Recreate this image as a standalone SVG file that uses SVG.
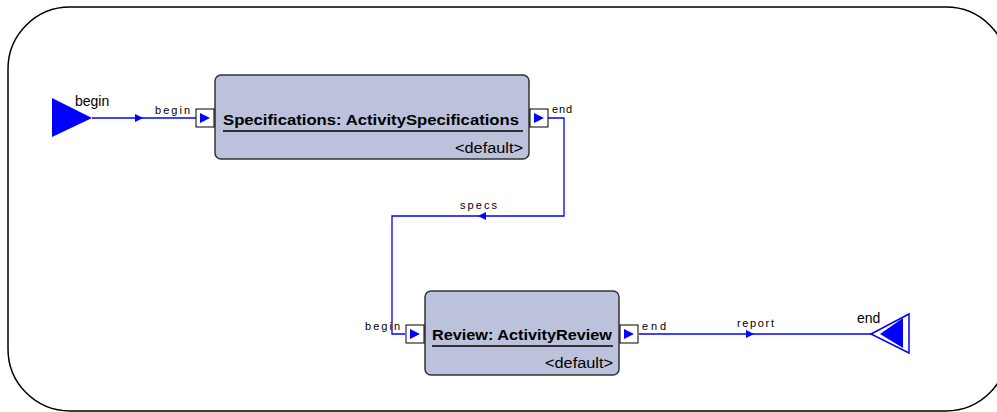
<svg xmlns="http://www.w3.org/2000/svg" width="997" height="412" viewBox="0 0 997 412">
<defs>
<style>
.frame{fill:#ffffff;stroke:#000000;stroke-width:1.5}
.box{fill:#bcc1dc;stroke:#333333;stroke-width:1.5}
.port{fill:#ffffff;stroke:#000000;stroke-width:1}
.ptri{fill:#0000ff}
.wire{fill:none;stroke:#0000ff;stroke-width:1.3}
.title{font-family:"Liberation Sans",Arial,sans-serif;font-weight:bold;font-size:15px;fill:#000000}
.def{font-family:"Liberation Sans",Arial,sans-serif;font-size:14px;fill:#000000}
.lbl{font-family:"Liberation Sans",Arial,sans-serif;font-size:11px;fill:#000000}
.big{font-family:"Liberation Sans",Arial,sans-serif;font-size:14px;fill:#000000}
</style>
<marker id="mid" viewBox="0 0 10 10" refX="5" refY="5" markerWidth="8" markerHeight="8" markerUnits="userSpaceOnUse" orient="auto">
<path d="M0,0 L10,5 L0,10 Z" fill="#0000ff"/>
</marker>
</defs>
<rect class="frame" x="8" y="7" width="1000" height="404" rx="62" ry="62"/>
<g id="connectors">
<g id="c-begin">
<polyline class="wire" points="92,118 139,118" marker-end="url(#mid)"/>
<line class="wire" x1="139" y1="118" x2="196" y2="118"/>
<text class="lbl" x="155" y="114" textLength="35" lengthAdjust="spacing">begin</text>
</g>
<g id="c-specs">
<polyline class="wire" points="548,118 564,118 564,216 482,216" marker-end="url(#mid)"/>
<polyline class="wire" points="482,216 392,216 392,334 405,334"/>
<text class="lbl" x="460" y="209" textLength="37" lengthAdjust="spacing">specs</text>
</g>
<g id="c-report">
<polyline class="wire" points="639,334 750,334" marker-end="url(#mid)"/>
<line class="wire" x1="750" y1="334" x2="871" y2="334"/>
<text class="lbl" x="737" y="327" textLength="37" lengthAdjust="spacing">report</text>
</g>
</g>
<g id="node-begin">
<polygon points="52,98 92,118 52,137" fill="#0000ff"/>
<text class="big" x="75" y="106">begin</text>
</g>
<g id="node-specifications">
<rect class="box" x="215" y="75" width="314" height="84" rx="6" ry="6"/>
<text class="title" x="223" y="125" textLength="296" lengthAdjust="spacingAndGlyphs">Specifications: ActivitySpecifications</text>
<line x1="223" y1="131" x2="523" y2="131" stroke="#000000" stroke-width="1.3"/>
<text class="def" x="455" y="153" textLength="68" lengthAdjust="spacingAndGlyphs">&lt;default&gt;</text>
<rect class="port" x="196" y="109" width="18" height="18"/>
<polygon class="ptri" points="200,113 210,118 200,123"/>
<rect class="port" x="530" y="109" width="18" height="18"/>
<polygon class="ptri" points="534,113 544,118 534,123"/>
<text class="lbl" x="552" y="113" textLength="20" lengthAdjust="spacing">end</text>
</g>
<g id="node-review">
<rect class="box" x="425" y="291" width="194" height="84" rx="6" ry="6"/>
<text class="title" x="432" y="340" textLength="180" lengthAdjust="spacingAndGlyphs">Review: ActivityReview</text>
<line x1="432" y1="346" x2="613" y2="346" stroke="#000000" stroke-width="1.3"/>
<text class="def" x="545" y="368" textLength="68" lengthAdjust="spacingAndGlyphs">&lt;default&gt;</text>
<rect class="port" x="406" y="325" width="18" height="18"/>
<polygon class="ptri" points="410,329 420,334 410,339"/>
<rect class="port" x="620" y="325" width="18" height="18"/>
<polygon class="ptri" points="624,329 634,334 624,339"/>
<text class="lbl" x="365" y="330" textLength="35" lengthAdjust="spacing">begin</text>
<text class="lbl" x="642" y="330" textLength="24" lengthAdjust="spacing">end</text>
</g>
<g id="node-end">
<polygon points="909,314 871,334 909,353" fill="none" stroke="#0000ff" stroke-width="1.5"/>
<polygon points="903,318 880,334 903,348" fill="#0000ff"/>
<text class="big" x="857" y="323">end</text>
</g>
</svg>
